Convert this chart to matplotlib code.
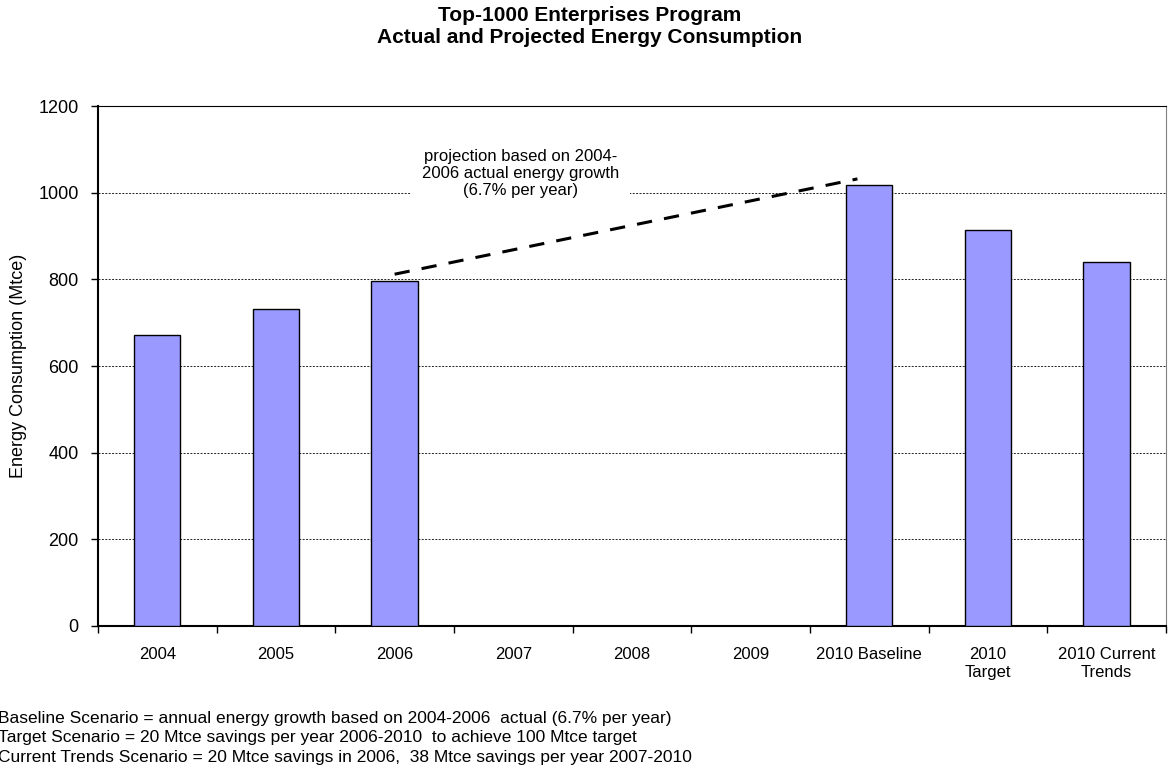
"""
Top-1000 Enterprises Program: actual and projected energy consumption
"""

import numpy as np
import matplotlib
matplotlib.use("Agg")
import matplotlib.pyplot as plt

plt.rcParams["font.family"] = ["Liberation Sans", "DejaVu Sans"]

# Данные (Mtce)
categories = ["2004", "2005", "2006", "2007", "2008", "2009",
              "2010 Baseline", "2010\nTarget", "2010 Current\nTrends"]
consumption = [672, 732, 796, np.nan, np.nan, np.nan, 1017, 914, 841]

# Линия прогноза: от 2006 до 2010 при росте 6.7% в год
projection_x = [2.0, 5.9]
projection_y = [812, 1032]

footnotes = [
    "Baseline Scenario = annual energy growth based on 2004-2006  actual (6.7% per year)",
    "Target Scenario = 20 Mtce savings per year 2006-2010  to achieve 100 Mtce target",
    "Current Trends Scenario = 20 Mtce savings in 2006,  38 Mtce savings per year 2007-2010",
]

fig = plt.figure(figsize=(11.69, 7.69), dpi=100)
ax = fig.add_axes([0.0838, 0.186, 0.9136, 0.676])

x = np.arange(len(categories))
vals = np.array(consumption, dtype=float)
mask = ~np.isnan(vals)
ax.bar(x[mask], vals[mask], width=0.39, color="#9999FF",
       edgecolor="black", linewidth=1.0, zorder=3)

ax.plot(projection_x, projection_y, color="black", linestyle=(0, (5, 4)),
        linewidth=2.2, zorder=4)

ax.text(3.06, 1045, "projection based on 2004-\n2006 actual energy growth\n(6.7% per year)",
        ha="center", va="center", fontsize=12, linespacing=1.15,
        bbox=dict(facecolor="white", edgecolor="none", pad=8), zorder=5)

ax.set_xlim(-0.5, len(categories) - 0.5)
ax.set_ylim(0, 1200)
ax.set_yticks(range(0, 1201, 200))
ax.yaxis.grid(True, color="#222222", linestyle=(0, (2, 1.5)), linewidth=0.7)
ax.set_axisbelow(True)

# подписи по центру категорий, засечки на границах
ax.set_xticks(x)
ax.set_xticklabels(categories, fontsize=12, linespacing=1.3)
ax.tick_params(axis="x", length=0, pad=15)
ax.set_xticks(np.arange(-0.5, len(categories)), minor=True)
ax.tick_params(axis="x", which="minor", length=5, width=1, direction="out")
ax.tick_params(axis="y", labelsize=13, length=5, width=1, direction="out", pad=9)

ax.set_ylabel("Energy Consumption (Mtce)", fontsize=13)
ax.yaxis.set_label_coords(-0.066, 0.5)

ax.spines["left"].set_linewidth(1.5)
ax.spines["bottom"].set_linewidth(1.5)
ax.spines["top"].set_linewidth(0.8)
ax.spines["right"].set_color("#808080")
ax.spines["right"].set_linewidth(0.8)

fig.text(0.504, 0.992, "Top-1000 Enterprises Program\nActual and Projected Energy Consumption",
         ha="center", va="top", fontsize=15, fontweight="bold", linespacing=1.2)

for i, line in enumerate(footnotes):
    fig.text(-0.002, 0.0663 - i * 0.0254, line, ha="left", va="center", fontsize=12.5)

fig.savefig("out.png", dpi=100)
